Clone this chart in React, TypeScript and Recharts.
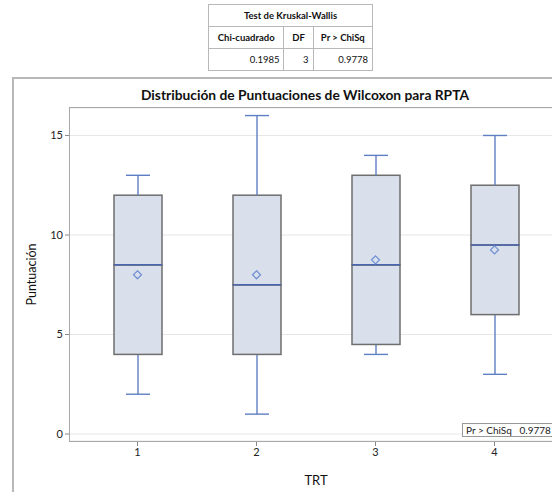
import React from 'react';
import { ComposedChart, Bar, Line, XAxis, YAxis, CartesianGrid } from 'recharts';

const trt = ['1', '2', '3', '4'];
const minV = [2, 1, 4, 3];
const q1V = [4, 4, 4.5, 6];
const medV = [8.5, 7.5, 8.5, 9.5];
const q3V = [12, 12, 13, 12.5];
const maxV = [13, 16, 14, 15];
const meanV = [8, 8, 8.75, 9.25];
const yTicks = [0, 5, 10, 15];

const tableHeaders = ['Chi-cuadrado', 'DF', 'Pr > ChiSq'];
const tableValues = ['0.1985', '3', '0.9778'];

const data = trt.map((t, i) => ({
  trt: t,
  base: minV[i],
  lowW: q1V[i] - minV[i],
  lowBox: medV[i] - q1V[i],
  highBox: q3V[i] - medV[i],
  highW: maxV[i] - q3V[i],
  mean: meanV[i],
}));

const WHISKER = '#5f7fc4';
const MEDIAN = '#4a66b0';
const BOXFILL = '#d9e0ec';
const BOXSTROKE = '#6e6e6e';
const FONT = 'Lato, "Open Sans", sans-serif';

const LowWhisker = (p: any) => {
  const cx = p.x + p.width / 2;
  return (
    <g>
      <line x1={cx} x2={cx} y1={p.y} y2={p.y + p.height} stroke={WHISKER} strokeWidth={1.4} />
      <line x1={cx - 12} x2={cx + 12} y1={p.y + p.height} y2={p.y + p.height} stroke={WHISKER} strokeWidth={1.4} />
    </g>
  );
};
const HighWhisker = (p: any) => {
  const cx = p.x + p.width / 2;
  return (
    <g>
      <line x1={cx} x2={cx} y1={p.y} y2={p.y + p.height} stroke={WHISKER} strokeWidth={1.4} />
      <line x1={cx - 12} x2={cx + 12} y1={p.y} y2={p.y} stroke={WHISKER} strokeWidth={1.4} />
    </g>
  );
};
const LowBox = (p: any) => (
  <rect x={p.x} y={p.y} width={p.width} height={p.height} fill={BOXFILL} stroke={BOXSTROKE} strokeWidth={1.5} />
);
const HighBox = (p: any) => (
  <g>
    <rect x={p.x} y={p.y} width={p.width} height={p.height} fill={BOXFILL} stroke={BOXSTROKE} strokeWidth={1.5} />
    <line x1={p.x} x2={p.x + p.width} y1={p.y + p.height} y2={p.y + p.height} stroke={MEDIAN} strokeWidth={1.5} />
  </g>
);
const Diamond = (p: any) => {
  if (p.cx == null || p.cy == null) return null;
  const r = 4;
  return (
    <path
      d={`M${p.cx},${p.cy - r}L${p.cx + r},${p.cy}L${p.cx},${p.cy + r}L${p.cx - r},${p.cy}Z`}
      fill="none"
      stroke="#6f8fd2"
      strokeWidth={1.2}
    />
  );
};

const cell: React.CSSProperties = {
  border: '1px solid #b8b8b8',
  padding: '0 4px',
  height: 21,
  fontSize: 9.5,
  color: '#111',
};

export default function App() {
  return (
    <div style={{ position: 'fixed', left: 0, top: 0, width: 552, height: 492, overflow: 'hidden', background: '#fff', fontFamily: FONT }}>
      <table
        style={{
          position: 'absolute',
          left: 208,
          top: 4,
          width: 165,
          borderCollapse: 'collapse',
          border: '1px solid #9a9a9a',
          fontFamily: FONT,
        }}
      >
        <tbody>
          <tr>
            <td colSpan={3} style={{ ...cell, textAlign: 'center', fontWeight: 700 }}>Test de Kruskal-Wallis</td>
          </tr>
          <tr>
            {tableHeaders.map((h, i) => (
              <td key={h} style={{ ...cell, textAlign: 'center', fontWeight: 700, width: i === 0 ? 66 : i === 1 ? 20 : 50 }}>{h}</td>
            ))}
          </tr>
          <tr>
            {tableValues.map((v) => (
              <td key={v} style={{ ...cell, textAlign: 'right' }}>{v}</td>
            ))}
          </tr>
        </tbody>
      </table>

      <div style={{ position: 'absolute', left: 12, top: 77, width: 620, height: 500, border: '2px solid #b8b8b8' }} />

      <div style={{ position: 'absolute', left: 90, width: 430, top: 86, textAlign: 'center', fontSize: 13.8, fontWeight: 700, color: '#111' }}>
        Distribución de Puntuaciones de Wilcoxon para RPTA
      </div>

      <div style={{ position: 'absolute', left: 0, top: 0 }}>
        <ComposedChart width={600} height={492} data={data} margin={{ top: 108, right: 38, bottom: 21, left: 20 }}>
          <CartesianGrid horizontal vertical={false} stroke="#e6e6e6" />
          <XAxis
            dataKey="trt"
            axisLine={false}
            tickLine={{ stroke: '#888' }}
            tickSize={5}
            padding={{ left: 8, right: 8 }}
            tick={{ fontSize: 11, fill: '#222', fontFamily: FONT }}
            height={30}
            label={{ value: 'TRT', position: 'insideBottom', offset: -14, fontSize: 13, fill: '#111', fontFamily: FONT }}
          />
          <YAxis
            type="number"
            domain={[-0.35, 16.38]}
            ticks={yTicks}
            allowDataOverflow
            axisLine={false}
            tickLine={{ stroke: '#888' }}
            tickSize={5}
            width={50}
            tick={{ fontSize: 11, fill: '#222', fontFamily: FONT }}
            label={{ value: 'Puntuación', angle: -90, position: 'insideLeft', offset: 12, fontSize: 12.5, fill: '#111', fontFamily: FONT, style: { textAnchor: 'middle' } }}
          />
          <Bar dataKey="base" stackId="a" fill="transparent" barSize={48} isAnimationActive={false} />
          <Bar dataKey="lowW" stackId="a" barSize={48} shape={LowWhisker} isAnimationActive={false} />
          <Bar dataKey="lowBox" stackId="a" barSize={48} shape={LowBox} isAnimationActive={false} />
          <Bar dataKey="highBox" stackId="a" barSize={48} shape={HighBox} isAnimationActive={false} />
          <Bar dataKey="highW" stackId="a" barSize={48} shape={HighWhisker} isAnimationActive={false} />
          <Line dataKey="mean" stroke="none" dot={Diamond} activeDot={false} isAnimationActive={false} />
        </ComposedChart>
      </div>

      <div style={{ position: 'absolute', left: 69, top: 107, width: 492, height: 333, border: '1.5px solid #a8a8a8', pointerEvents: 'none' }} />

      <div
        style={{
          position: 'absolute',
          left: 462,
          top: 423,
          border: '1px solid #999',
          background: '#fff',
          fontSize: 10,
          lineHeight: '12px',
          padding: '0 3px',
          whiteSpace: 'nowrap',
          color: '#222',
        }}
      >
        Pr &gt; ChiSq&nbsp;&nbsp;&nbsp;0.9778
      </div>
    </div>
  );
}
